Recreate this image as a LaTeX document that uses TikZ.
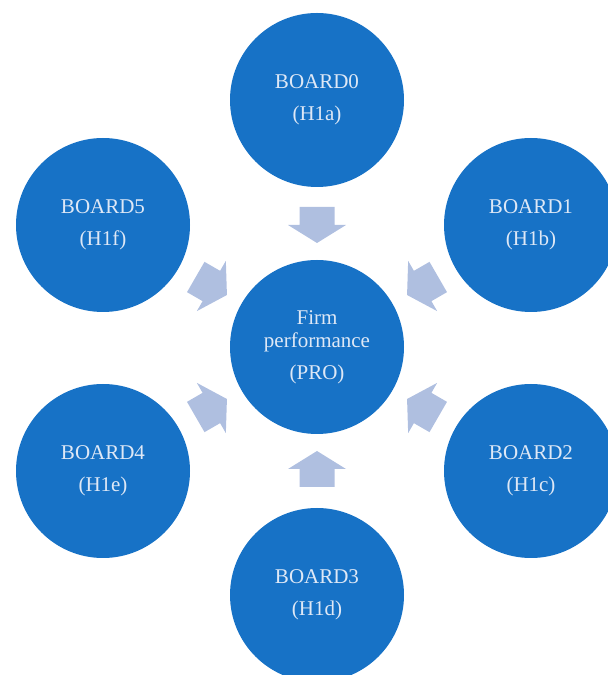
\documentclass[tikz,border=0pt]{standalone}
\usepackage{fontspec}
\setmainfont{Liberation Serif}
\definecolor{circblue}{RGB}{23,114,198}
\definecolor{arrblue}{RGB}{175,191,224}
\definecolor{txtcol}{RGB}{222,232,246}
\tikzset{
  circ/.style={circle, fill=circblue, draw=none, minimum size=174pt, inner sep=0pt,
    text=txtcol, align=center, font=\fontsize{21}{32}\selectfont},
  blockarrow/.style={fill=arrblue, draw=none}
}
\begin{document}
\begin{tikzpicture}[x=1pt,y=1pt]
\useasboundingbox (0,0) rectangle (608,675);
\clip (0,0) rectangle (608,675);
\node[circ] (c) at (317,328) {Firm\\[-9pt]performance\\(PRO)};
\node[circ] (b0) at (317,575) {BOARD0\\(H1a)};
\node[circ] (b1) at (531,450) {BOARD1\\(H1b)};
\node[circ] (b2) at (531,204) {BOARD2\\(H1c)};
\node[circ] (b3) at (317,80) {BOARD3\\(H1d)};
\node[circ] (b4) at (103,204) {BOARD4\\(H1e)};
\node[circ] (b5) at (103,450) {BOARD5\\(H1f)};
\foreach \ang in {90,30,-30,-90,-150,150}{
  \begin{scope}[shift={(c.center)}, rotate=\ang]
    \fill[blockarrow] (140,-17.5) -- (122,-17.5) -- (122,-29) -- (104,0) -- (122,29) -- (122,17.5) -- (140,17.5) -- cycle;
  \end{scope}
}
\end{tikzpicture}
\end{document}
